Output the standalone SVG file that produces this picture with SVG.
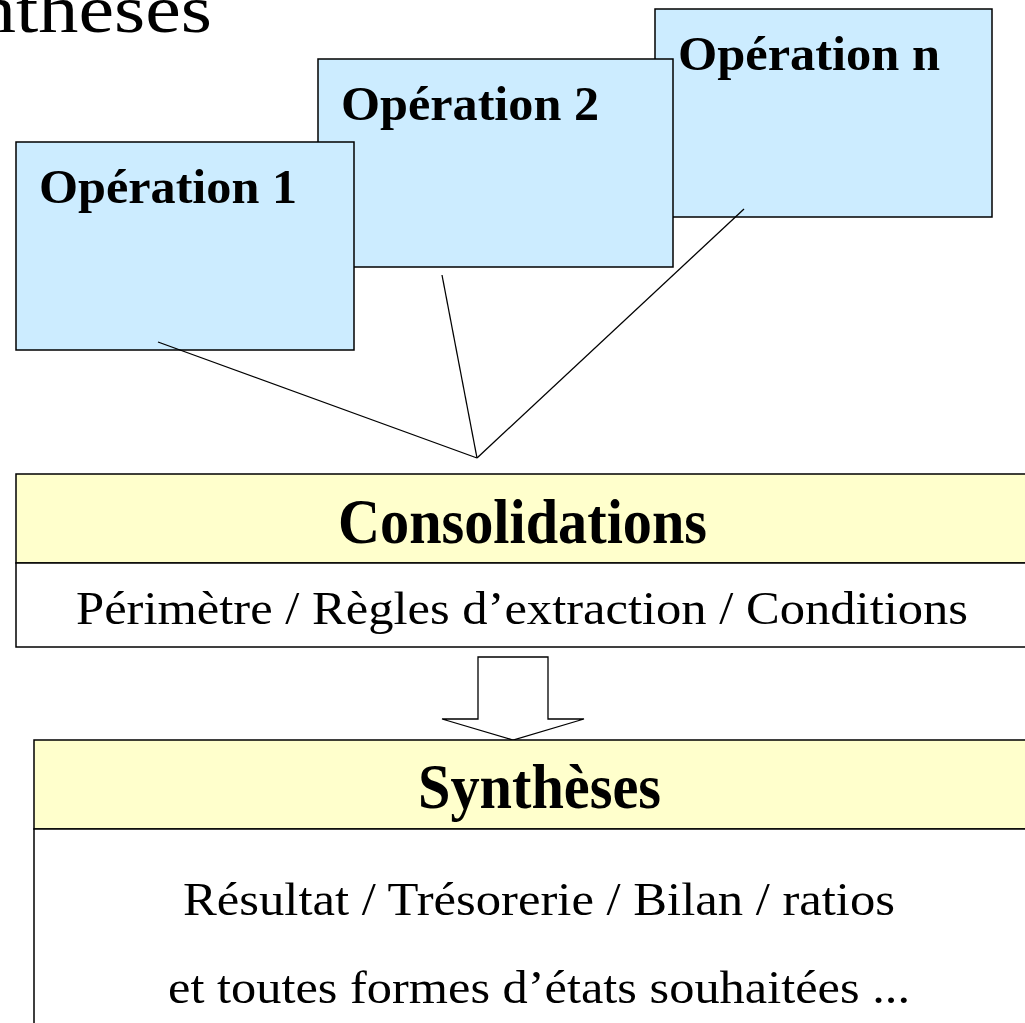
<svg xmlns="http://www.w3.org/2000/svg" width="1025" height="1023" viewBox="0 0 1025 1023">
<style>
.box{stroke:#000;stroke-width:1.5}
.op{fill:#CCECFF}
.hd{fill:#FFFFCC}
.wh{fill:#FFFFFF}
.t{font-family:"Liberation Serif","Times New Roman",serif;fill:#000}
.b{font-weight:bold}
.conn{stroke:#000;stroke-width:1.3;fill:none}
</style>
<rect width="1025" height="1023" fill="#FFFFFF"/>
<text class="t" x="-24" y="32" font-size="68" textLength="236" lengthAdjust="spacingAndGlyphs">ntheses</text>
<g id="op-n">
<rect class="box op" x="655" y="9" width="337" height="208"/>
<text class="t b" x="678" y="70" font-size="48" textLength="262" lengthAdjust="spacingAndGlyphs">Opération n</text>
</g>
<g id="op-2">
<rect class="box op" x="318" y="59" width="355" height="208"/>
<text class="t b" x="341" y="120" font-size="48" textLength="258" lengthAdjust="spacingAndGlyphs">Opération 2</text>
</g>
<g id="op-1">
<rect class="box op" x="16" y="142" width="338" height="208"/>
<text class="t b" x="39" y="203" font-size="48" textLength="258" lengthAdjust="spacingAndGlyphs">Opération 1</text>
</g>
<g id="connectors">
<line class="conn" x1="158" y1="342" x2="477" y2="458"/>
<line class="conn" x1="442" y1="275" x2="477" y2="458"/>
<line class="conn" x1="744" y1="209" x2="477" y2="458"/>
<path class="conn" d="M478,657 H548 V719 H584 L513,740 L442,719 H478 Z" style="fill:#FFFFFF"/>
</g>
<g id="consolidations">
<rect class="box hd" x="16" y="474" width="1020" height="89"/>
<rect class="box wh" x="16" y="563" width="1020" height="84"/>
<text class="t b" x="338" y="543" font-size="64" textLength="369" lengthAdjust="spacingAndGlyphs">Consolidations</text>
<text class="t" x="76" y="624" font-size="47" textLength="892" lengthAdjust="spacingAndGlyphs">Périmètre / Règles d’extraction / Conditions</text>
</g>
<g id="syntheses">
<rect class="box hd" x="34" y="740" width="1000" height="89"/>
<rect class="box wh" x="34" y="829" width="1000" height="210"/>
<text class="t b" x="418" y="808" font-size="64" textLength="243" lengthAdjust="spacingAndGlyphs">Synthèses</text>
<text class="t" x="183" y="915" font-size="47" textLength="712" lengthAdjust="spacingAndGlyphs">Résultat / Trésorerie / Bilan / ratios</text>
<text class="t" x="168" y="1003" font-size="47" textLength="742" lengthAdjust="spacingAndGlyphs">et toutes formes d’états souhaitées ...</text>
</g>
</svg>
